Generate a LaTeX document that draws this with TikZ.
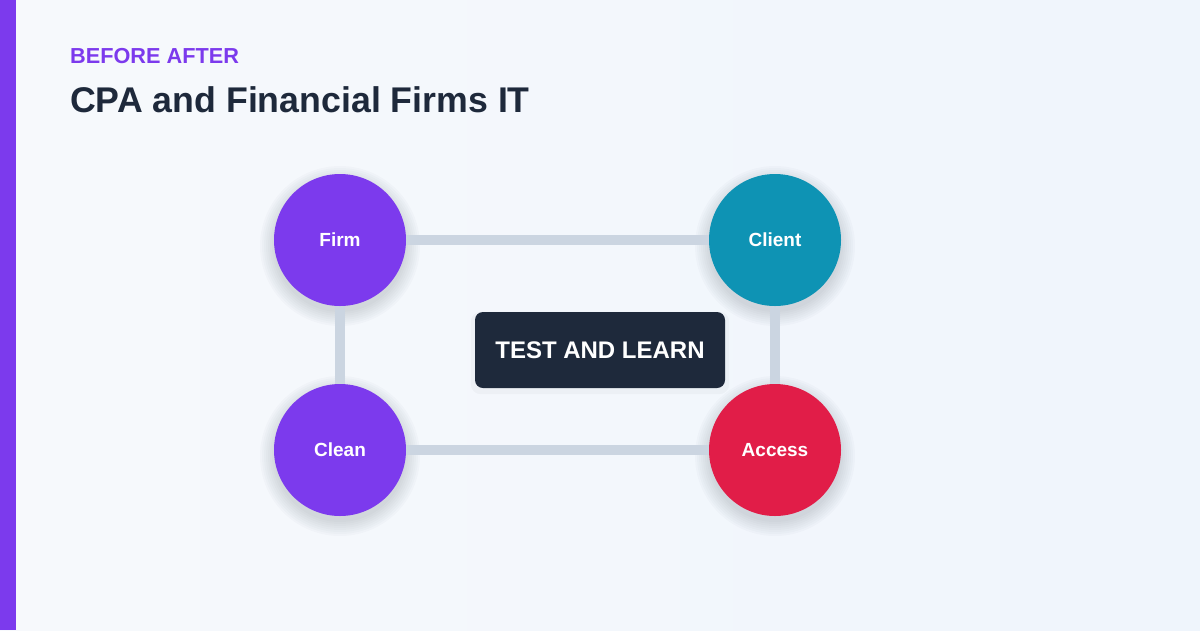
\documentclass[tikz,border=0pt]{standalone}
\usepackage{fontspec}
\setmainfont{Liberation Sans}
\definecolor{bgA}{HTML}{F8FAFC}
\definecolor{bgB}{HTML}{EEF4FC}
\definecolor{purp}{HTML}{7C3AED}
\definecolor{teal}{HTML}{0E93B4}
\definecolor{rose}{HTML}{E11D48}
\definecolor{ink}{HTML}{1E293B}
\definecolor{link}{HTML}{CBD5E1}
\pgfdeclarelayer{bg}
\pgfdeclarelayer{shadowlayer}
\pgfdeclarelayer{connlayer}
\pgfsetlayers{bg,shadowlayer,connlayer,main}
\tikzset{
  px/.style={x=1pt,y=-1pt},
  circ/.style={circle, minimum size=132pt, inner sep=0pt, text=white,
    font=\bfseries\fontsize{19}{21}\selectfont},
  softshadow/.style={fill=ink, fill opacity=0.018, draw=none},
  conn/.style={draw=link, line width=10pt},
  centerbox/.style={rectangle, rounded corners=8pt, fill=ink, text=white,
    minimum width=250pt, minimum height=76pt, inner sep=0pt,
    font=\bfseries\fontsize{24}{27}\selectfont},
  kicker/.style={anchor=base west, inner sep=0pt, text=purp, font=\bfseries\fontsize{21.7}{25}\selectfont},
  title/.style={anchor=base west, inner sep=0pt, text=ink, font=\bfseries\fontsize{35.7}{40}\selectfont}
}
\begin{document}
\begin{tikzpicture}[px]
\useasboundingbox (0,0) rectangle (1200,630);
\begin{pgfonlayer}{bg}
\shade[shading angle=135, left color=bgA, right color=bgB] (-200,-200) rectangle (1400,830);
\fill[purp] (0,0) rectangle (16,630);
\end{pgfonlayer}
\node[kicker] (kick) at (70,63) {BEFORE AFTER};
\node[title] (ttl) at (70,112) {CPA and Financial Firms IT};
\node[circ, fill=purp] (firm) at (340,240) {Firm};
\node[circ, fill=teal] (client) at (775,240) {Client};
\node[circ, fill=purp] (clean) at (340,450) {Clean};
\node[circ, fill=rose] (access) at (775,450) {Access};
\node[centerbox] (tl) at (600,350) {TEST AND LEARN};
\begin{pgfonlayer}{shadowlayer}
\foreach \n in {firm, client, clean, access}{
  \foreach \r in {66,68,...,80}{
    \fill[softshadow] ([yshift=-6pt]\n.center) circle[radius=\r];
  }
}
\fill[softshadow, fill opacity=0.03, rounded corners=10pt] ([xshift=-4pt,yshift=-6pt]tl.south west) rectangle ([xshift=4pt]tl.north east);
\end{pgfonlayer}
\begin{pgfonlayer}{connlayer}
\draw[conn] (firm) -- (client);
\draw[conn] (clean) -- (access);
\draw[conn] (firm) -- (clean);
\draw[conn] (client) -- (access);
\end{pgfonlayer}
\end{tikzpicture}
\end{document}
